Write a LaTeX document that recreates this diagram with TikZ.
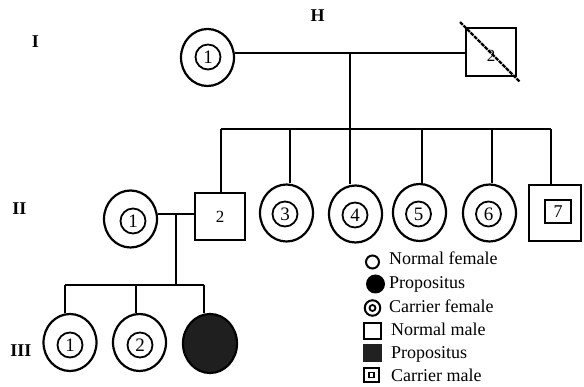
\documentclass[tikz,border=0pt]{standalone}
\usepackage{fontspec}
\setmainfont{Liberation Serif}
\usetikzlibrary{shapes.geometric,calc}
\begin{document}
\begin{tikzpicture}[x=1pt,y=-1pt,
  line width=2.2pt,
  fem/.style={draw, ellipse, minimum width=53pt, minimum height=57pt, inner sep=0pt},
  propf/.style={fem, fill=black!88, minimum width=54pt, minimum height=59pt},
  male/.style={draw, rectangle, inner sep=0pt, font=\fontsize{17}{20}\selectfont},
  num/.style={draw, circle, line width=1.8pt, minimum size=25pt, inner sep=0pt, font=\fontsize{19}{20}\selectfont},
  gen/.style={anchor=base, font=\bfseries\fontsize{18}{20}\selectfont},
  legtext/.style={anchor=base west, font=\fontsize{18}{22}\selectfont, inner sep=0pt},
  slash/.style={line width=2.2pt, dash pattern=on 4pt off 1pt}
]
\useasboundingbox (0,0) rectangle (584,387);
\fill[white] (0,0) rectangle (584,387);

% generation labels
\node[gen] (gI) at (35.5,48) {I};
\node[gen] (gII) at (19.5,215) {II};
\node[gen] (gIII) at (21,357) {III};
\node[gen] (gH) at (317.5,22) {H};

% generation I
\node[fem] (I1) at (207.5,57.5) {};
\node[num] (I1n) at (208,57) {1};
\node[male, minimum width=49.8pt, minimum height=47.8pt, label={[yshift=-4pt, font=\fontsize{17}{20}\selectfont]center:2}] (I2) at (491,52) {};
\draw[slash] ($(I2.north west)+(-5,-5)$) -- ($(I2.south east)+(3,5)$);

\coordinate (m1) at (350,53);
\coordinate (s1) at (350,129);
\draw (I1.east |- m1) -- (I2.west |- m1);
\draw (m1) -- (s1);

% generation II
\node[fem] (II1) at (130.5,219) {};
\node[num] (II1n) at (133,221) {1};
\node[male, minimum width=49.8pt, minimum height=46.8pt] (II2) at (220,216.5) {2};
\node[fem] (II3) at (286.5,213) {};
\node[num] (II3n) at (285,214) {3};
\node[fem] (II4) at (355.5,214) {};
\node[num] (II4n) at (355,215) {4};
\node[fem] (II5) at (419.5,212.5) {};
\node[num] (II5n) at (418.5,214) {5};
\node[fem] (II6) at (489.5,213) {};
\node[num] (II6n) at (488.5,214) {6};
\node[male, minimum width=51.8pt, minimum height=55.8pt] (II7) at (555,213) {};
\node[male, line width=1.8pt, minimum width=26.5pt, minimum height=23.5pt, font=\fontsize{18}{20}\selectfont] (II7n) at (558,211.5) {7};

\coordinate (a2) at (221,129);
\coordinate (a3) at (290,129);
\coordinate (a5) at (422,129);
\coordinate (a6) at (492,129);
\coordinate (a7) at (551,129);
\draw (a2) -- (a7);
\draw (a2) -- (a2 |- II2.north);
\draw (a3) -- (a3 |- II3.north);
\draw (s1) -- (s1 |- II4.north);
\draw (a5) -- (a5 |- II5.north);
\draw (a6) -- (a6 |- II6.north);
\draw (a7) -- (a7 |- II7.north);

\coordinate (m2) at (176,214);
\coordinate (s2) at (176,285);
\draw (II1.east |- m2) -- (II2.west |- m2);
\draw (m2) -- (s2);

% generation III
\node[fem] (III1) at (70,342.5) {};
\node[num] (III1n) at (70,345) {1};
\node[fem] (III2) at (139.5,342.5) {};
\node[num] (III2n) at (140,345) {2};
\node[propf] (III3) at (210,343.5) {};

\coordinate (b1) at (65,285);
\coordinate (b2) at (136,285);
\coordinate (b3) at (204,285);
\draw (b1) -- (b3);
\draw (b1) -- (b1 |- III1.north);
\draw (b2) -- (b2 |- III2.north);
\draw (b3) -- (b3 |- III3.north);

% legend
\node[draw, circle, line width=2pt, minimum size=13pt, inner sep=0pt] (L1) at (372.5,262) {};
\node[legtext] (T1) at (388,265) {Normal female};
\node[circle, fill=black, minimum size=19pt, inner sep=0pt] (L2) at (375.5,284) {};
\node[legtext] (T2) at (388,289) {Propositus};
\node[draw, circle, line width=2pt, minimum size=15.5pt, inner sep=0pt] (L3) at (372.5,308) {};
\node[draw, circle, line width=1.8pt, minimum size=6pt, inner sep=0pt] (L3n) at (372.5,308) {};
\node[legtext] (T3) at (388,313) {Carrier female};
\node[draw, rectangle, line width=2pt, minimum width=17pt, minimum height=16pt, inner sep=0pt] (L4) at (372.5,331) {};
\node[legtext] (T4) at (390,336) {Normal male};
\node[rectangle, fill=black!87, minimum width=19pt, minimum height=18pt, inner sep=0pt] (L5) at (372.5,353) {};
\node[legtext] (T5) at (390,359) {Propositus};
\node[draw, rectangle, line width=2pt, minimum width=15pt, minimum height=14.5pt, inner sep=0pt] (L6) at (371.5,375) {};
\node[draw, rectangle, line width=1.6pt, minimum size=5pt, inner sep=0pt] (L6n) at (371.5,375) {};
\node[legtext] (T6) at (390,382) {Carrier male};
\end{tikzpicture}
\end{document}
